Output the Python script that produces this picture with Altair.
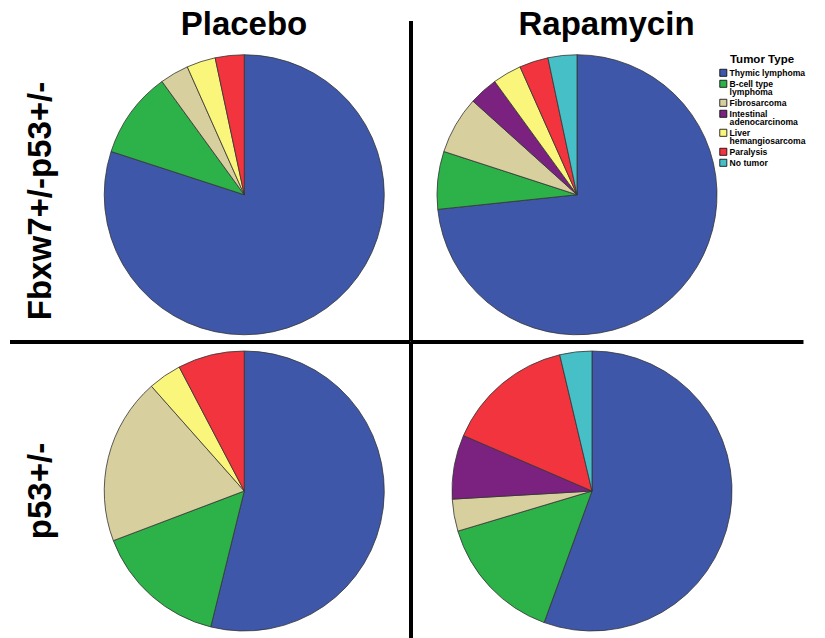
import altair as alt
import pandas as pd

# ---------------- data ----------------
tumor_types = ["Thymic lymphoma", "B-cell type lymphoma", "Fibrosarcoma",
               "Intestinal adenocarcinoma", "Liver hemangiosarcoma",
               "Paralysis", "No tumor"]
tumor_colors = ["#3F57A9", "#2DB24A", "#D7CF9E", "#7B2280", "#FAF57B",
                "#F1343D", "#46BFC7"]
legend_lines = [["Thymic lymphoma"], ["B-cell type", "lymphoma"], ["Fibrosarcoma"],
                ["Intestinal", "adenocarcinoma"], ["Liver", "hemangiosarcoma"],
                ["Paralysis"], ["No tumor"]]

treatments = ["Placebo", "Rapamycin"]
genotypes = ["Fbxw7+/-p53+/-", "p53+/-"]

# counts per tumour type (order of tumor_types)
fbxw7_placebo = [24, 3, 1, 0, 1, 1, 0]
fbxw7_rapamycin = [22, 2, 2, 1, 1, 1, 1]
p53_placebo = [14, 4, 5, 0, 1, 2, 0]
p53_rapamycin = [15, 4, 1, 2, 0, 4, 1]

counts = {
    (genotypes[0], treatments[0]): fbxw7_placebo,
    (genotypes[0], treatments[1]): fbxw7_rapamycin,
    (genotypes[1], treatments[0]): p53_placebo,
    (genotypes[1], treatments[1]): p53_rapamycin,
}

rows = []
for (g, t), vals in counts.items():
    for i, (tt, v) in enumerate(zip(tumor_types, vals)):
        if v > 0:
            rows.append({"genotype": g, "treatment": t, "tumor": tt, "idx": i, "count": v})
df = pd.DataFrame(rows)

col_df = pd.DataFrame({"label": treatments})
row_df = pd.DataFrame({"label": genotypes})
sep_df = pd.DataFrame({"part": ["divider"]})

# ---------------- styling ----------------
FONT = "Liberation Sans"
LINE_W = 4

label_expr = "datum.label"
for name, lines in zip(tumor_types, legend_lines):
    if len(lines) > 1:
        arr = "[" + ", ".join("'" + s + "'" for s in lines) + "]"
        label_expr = f"datum.label == '{name}' ? {arr} : (" + label_expr + ")"

color_enc = alt.Color(
    "tumor:N",
    scale=alt.Scale(domain=tumor_types, range=tumor_colors),
    legend=alt.Legend(
        title="Tumor Type", orient="none", legendX=711, legendY=46,
        titleFont=FONT, titleFontSize=11.5, titleFontWeight="bold", titleColor="black",
        titleAnchor="middle", titlePadding=3,
        labelFont=FONT, labelFontSize=8.6, labelFontWeight="bold", labelColor="black",
        labelExpr=label_expr, labelOffset=2, labelLimit=200,
        symbolType="square", symbolSize=50, symbolStrokeColor="black",
        symbolStrokeWidth=0.8, rowPadding=0,
    ),
)

W_LABEL = 70
W_LEFT = 332.5
W_TR = 332
W_BR = 362
H_TITLE = 40
H_TOP = 293.5
H_BOT = 298


def vrule(y0, y1):
    return alt.Chart(sep_df).mark_rule(color="black", strokeWidth=LINE_W).encode(
        x=alt.value(0), y=alt.value(y0), y2=alt.value(y1))


def hrule(x0, x1):
    return alt.Chart(sep_df).mark_rule(color="black", strokeWidth=LINE_W).encode(
        x=alt.value(x0), x2=alt.value(x1), y=alt.value(0))


def pie(geno, treat):
    return alt.Chart(df).transform_filter(
        (alt.datum.genotype == geno) & (alt.datum.treatment == treat)
    ).mark_arc(outerRadius=140, stroke="#333333", strokeWidth=0.8).encode(
        theta=alt.Theta("count:Q", stack=True),
        color=color_enc,
        order=alt.Order("idx:Q", sort="ascending"),
    )


def col_title(name, xpos, w):
    return alt.Chart(col_df).transform_filter(alt.datum.label == name).mark_text(
        font=FONT, fontSize=33, fontWeight="bold", color="black",
        align="center", baseline="middle"
    ).encode(text="label:N", x=alt.value(xpos), y=alt.value(16.6)).properties(
        width=w, height=H_TITLE)


def row_title(name, ypos, h):
    return alt.Chart(row_df).transform_filter(alt.datum.label == name).mark_text(
        font=FONT, fontSize=33, fontWeight="bold", color="black",
        align="center", baseline="middle", angle=270
    ).encode(text="label:N", x=alt.value(33), y=alt.value(ypos)).properties(
        width=W_LABEL, height=h)


blank = alt.Chart(sep_df).mark_rule(strokeOpacity=0).encode(
    x=alt.value(10), y=alt.value(10), y2=alt.value(20)).properties(
    width=W_LABEL, height=H_TITLE)

cells = [
    # title row
    blank,
    col_title(treatments[0], 166, W_LEFT),
    alt.layer(col_title(treatments[1], 195.5, W_TR), vrule(13, H_TITLE)).properties(
        width=W_TR, height=H_TITLE),
    # first genotype row
    row_title(genotypes[0], 153, H_TOP),
    pie(genotypes[0], treatments[0]).properties(width=W_LEFT, height=H_TOP),
    alt.layer(pie(genotypes[0], treatments[1]), vrule(0, H_TOP)).properties(
        width=W_TR, height=H_TOP),
    # second genotype row
    alt.layer(row_title(genotypes[1], 149, H_BOT), hrule(2, W_LABEL)).properties(
        width=W_LABEL, height=H_BOT),
    alt.layer(pie(genotypes[1], treatments[0]), hrule(0, W_LEFT)).properties(
        width=W_LEFT, height=H_BOT),
    alt.layer(pie(genotypes[1], treatments[1]), vrule(0, H_BOT), hrule(0, 392.5)).properties(
        width=W_BR, height=H_BOT),
]

chart = alt.concat(
    *cells, columns=3, spacing=0, bounds="flush", align="each"
).resolve_scale(theta="independent", color="shared").resolve_legend(
    color="shared"
).properties(
    padding={"left": 0, "top": 0, "right": 0, "bottom": 0},
    background="white",
).configure(
    style={"guide-label": {"lineHeight": 8.6}}
).configure_view(stroke=None)

chart.save("out.html", embed_options={"renderer": "svg", "actions": False})
